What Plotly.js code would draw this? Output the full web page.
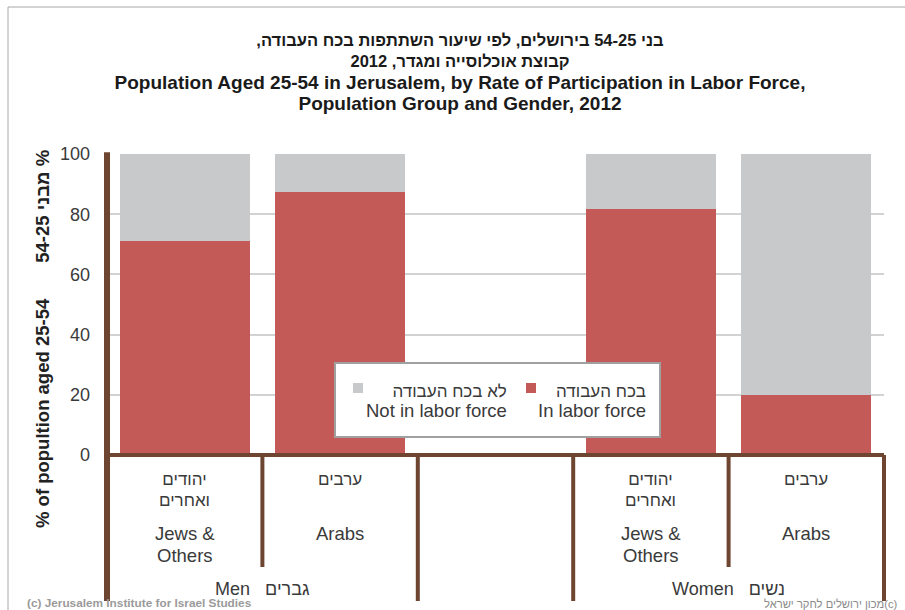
<!DOCTYPE html>
<html>
<head>
<meta charset="utf-8">
<script src="https://cdn.plot.ly/plotly-3.0.1.min.js"></script>
<style>
  html, body { margin: 0; padding: 0; background: #ffffff; }
  #chart { width: 905px; height: 610px; }
</style>
</head>
<body>
<div id="chart"></div>
<script>
// ---------------- data ----------------
const categoryKeys = ["men_jews", "men_arabs", "gap", "women_jews", "women_arabs"];
const categoryHebrew = ["יהודים<br>ואחרים", "ערבים", "", "יהודים<br>ואחרים", "ערבים"];
const categoryEnglish = ["Jews &<br>Others", "Arabs", "", "Jews &<br>Others", "Arabs"];
const groupEnglish = ["Men", "Women"];
const groupHebrew = ["גברים", "נשים"];
const inLaborForce = [71, 87.5, null, 81.7, 20];
const notInLaborForce = [29, 12.5, null, 18.3, 80];
const seriesHebrew = ["בכח העבודה", "לא בכח העבודה"];
const seriesEnglish = ["In labor force", "Not in labor force"];
const yTicks = [0, 20, 40, 60, 80, 100];
const titleHebrew = ["בני 54-25 בירושלים, לפי שיעור השתתפות בכח העבודה,", "קבוצת אוכלוסייה ומגדר, 2012"];
const titleEnglish = ["Population Aged 25-54 in Jerusalem, by Rate of Participation in Labor Force,", "Population Group and Gender, 2012"];
const yTitleEnglish = "% of popultion aged 25-54";
const yTitleHebrew = "% מבני 54-25";
const footerLeft = "(c) Jerusalem Institute for Israel Studies";
const footerRight = "(c)מכון ירושלים לחקר ישראל";

// ---------------- style ----------------
const RED = "#C45A57";
const GRAY = "#C8C9CB";
const BROWN = "#6E4531";
const TEXT = "#3a3a3a";
const FONT = "Liberation Sans, Arial, sans-serif";

// right-to-left isolate for Hebrew strings
const rtl = s => "\u2067" + s + "\u2069";
const span = (s, size) => "<span style='font-size:" + size + "px'>" + s + "</span>";

// plot-area pixel helpers (plot area: x 107..884, y 154..455)
const L = 107, R = 884, T = 154, B = 455;
const px = v => (v - L) / (R - L);
const py = v => (B - v) / (B - T);

const traces = [
  { type: "bar", name: seriesEnglish[0], x: categoryKeys, y: inLaborForce,
    marker: { color: RED, line: { width: 0 } }, hoverinfo: "skip", showlegend: false },
  { type: "bar", name: seriesEnglish[1], x: categoryKeys, y: notInLaborForce,
    marker: { color: GRAY, line: { width: 0 } }, hoverinfo: "skip", showlegend: false }
];

const shapes = [];
const annotations = [];

// outer chart border
shapes.push({ type: "line", xref: "paper", yref: "paper", x0: px(8), x1: px(905), y0: py(7), y1: py(7), line: { color: "#a8a8a8", width: 1 } });
shapes.push({ type: "line", xref: "paper", yref: "paper", x0: px(8), x1: px(8), y0: py(7), y1: py(612), line: { color: "#a8a8a8", width: 1 } });

// axis structure lines (brown)
shapes.push({ type: "line", xref: "paper", yref: "paper", x0: 0, x1: 1, y0: 0, y1: 0, line: { color: BROWN, width: 4 }, layer: "above" });
const n = categoryKeys.length;
for (let i = 0; i <= n; i++) {
  const xf = i / n;
  const long = (i === 0 || i === 2 || i === 3 || i === n);
  const top = (i === 0) ? 1.006 : 0;
  shapes.push({ type: "line", xref: "paper", yref: "paper", x0: xf, x1: xf, y0: top, y1: py(long ? 601 : 567),
    line: { color: BROWN, width: i === 0 ? 6 : 4 }, layer: "above" });
}

// category labels
categoryKeys.forEach((k, i) => {
  if (!categoryHebrew[i]) return;
  annotations.push({ xref: "x", yref: "paper", x: k, y: py(468), yanchor: "top", xanchor: "center", showarrow: false,
    text: categoryHebrew[i].split("<br>").map(s => span(rtl(s), 17)).join("<br>"),
    font: { family: FONT, size: 16, color: TEXT }, align: "center" });
  annotations.push({ xref: "x", yref: "paper", x: k, y: py(521), yanchor: "top", xanchor: "center", showarrow: false,
    text: categoryEnglish[i].split("<br>").map(s => span(s, 18.5)).join("<br>"),
    font: { family: FONT, size: 17, color: TEXT }, align: "center" });
});
// group labels (centred under each pair of categories)
[0.5, 3.5].forEach((xi, g) => {
  annotations.push({ xref: "x", yref: "paper", x: xi, y: py(589), yanchor: "middle", xanchor: "center", showarrow: false,
    text: groupEnglish[g] + "\u00A0\u00A0\u00A0" + rtl(groupHebrew[g]), font: { family: FONT, size: 18, color: TEXT } });
});

// legend (box, swatches, text)
shapes.push({ type: "rect", xref: "paper", yref: "paper", x0: px(335), x1: px(660), y0: py(363), y1: py(437),
  fillcolor: "#ffffff", line: { color: "#a0a0a0", width: 2 }, layer: "above" });
const legendItems = [
  { color: GRAY, sq: 353, right: 509, idx: 1 },
  { color: RED, sq: 526, right: 648, idx: 0 }
];
legendItems.forEach(it => {
  shapes.push({ type: "rect", xref: "paper", yref: "paper", x0: px(it.sq), x1: px(it.sq + 10), y0: py(383), y1: py(393),
    fillcolor: it.color, line: { width: 0 }, layer: "above" });
  annotations.push({ xref: "paper", yref: "paper", x: px(it.right), y: py(401), xanchor: "right", yanchor: "middle", showarrow: false,
    align: "right", text: span(rtl(seriesHebrew[it.idx]), 17) + "<br>" + span(seriesEnglish[it.idx], 18.5),
    font: { family: FONT, size: 15.5, color: TEXT } });
});

// y-axis title (English + Hebrew, rotated)
annotations.push({ xref: "paper", yref: "paper", x: px(42), y: py(339), xanchor: "center", yanchor: "middle", showarrow: false,
  textangle: -90,
  text: yTitleEnglish + "\u00A0\u00A0\u00A0\u00A0\u00A0\u00A0\u00A0" + rtl(yTitleHebrew),
  font: { family: FONT, size: 18.5, color: "#222222", weight: "bold" } });

// footers
annotations.push({ xref: "paper", yref: "paper", x: px(25), y: py(603), xanchor: "left", yanchor: "middle", showarrow: false,
  text: footerLeft, font: { family: FONT, size: 11.8, color: "#9a9a9a", weight: "bold" } });
annotations.push({ xref: "paper", yref: "paper", x: px(900), y: py(604), xanchor: "right", yanchor: "middle", showarrow: false,
  text: rtl(footerRight), font: { family: FONT, size: 11.2, color: "#8a8a8a" } });

const titleText = titleHebrew.map(s => span(rtl(s), 16.5))
  .concat(titleEnglish.map(s => span(s, 19)))
  .join("<br>");

const layout = {
  width: 905, height: 610,
  margin: { l: L, r: 905 - R, t: T, b: 610 - B, pad: 0 },
  paper_bgcolor: "#ffffff", plot_bgcolor: "#ffffff",
  barmode: "stack", bargap: 0.165,
  title: {
    text: titleText,
    font: { family: FONT, size: 16.5, color: "#1a1a1a", weight: "bold" },
    x: 460 / 905, xanchor: "center", xref: "container",
    y: 1 - 46 / 610, yanchor: "middle", yref: "container"
  },
  xaxis: {
    type: "category", categoryorder: "array", categoryarray: categoryKeys,
    range: [-0.5, categoryKeys.length - 0.5],
    showticklabels: false, showgrid: false, zeroline: false, showline: false, ticks: ""
  },
  yaxis: {
    range: [0, 100], tickvals: yTicks, ticktext: yTicks.map(String),
    showgrid: true, gridcolor: "#d2d2d2", gridwidth: 2,
    zeroline: false, showline: false, ticks: "", ticklabelstandoff: 16,
    tickfont: { family: FONT, size: 18, color: TEXT }
  },
  shapes: shapes,
  annotations: annotations,
  showlegend: false
};

Plotly.newPlot("chart", traces, layout, { displayModeBar: false, staticPlot: true });
</script>
</body>
</html>
